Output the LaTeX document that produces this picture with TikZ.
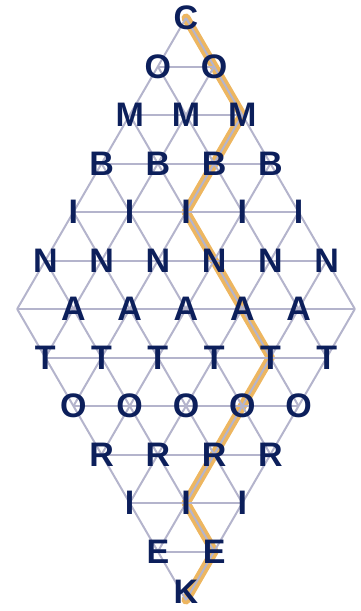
\documentclass[tikz,border=0pt]{standalone}
\usepackage{fontspec}
\setmainfont{Liberation Sans}
\definecolor{navy}{HTML}{0C1F5B}
\definecolor{gridc}{HTML}{B4B4CC}
\definecolor{pathc}{HTML}{EDB660}
\tikzset{
  gridline/.style={draw=gridc, line width=2pt},
  wordpath/.style={draw=pathc, line width=9pt, line cap=round, line join=round},
  letter/.style={inner sep=0pt, text=navy, font=\fontsize{34}{34}\selectfont\bfseries}
}
\begin{document}
\begin{tikzpicture}[x=1pt,y=1pt]
\useasboundingbox (0,0) rectangle (360,-611);
% lattice points (i = steps down-left, j = steps down-right)
\foreach \i in {0,...,6}{
  \foreach \j in {0,...,6}{
    \coordinate (p\i\j) at ({186+(\j-\i)*28.14},{-18-(\i+\j)*48.5});
  }
}
% highlighted path
\draw[wordpath] (p00) -- (p01) -- (p02) -- (p12) -- (p22) -- (p23) -- (p24)
  -- (p25) -- (p35) -- (p45) -- (p55) -- (p56) -- (p66);
% lattice lines
\foreach \k in {0,...,6}{
  \draw[gridline] (p\k0) -- (p\k6);
  \draw[gridline] (p0\k) -- (p6\k);
}
\foreach \r in {1,...,6}{\draw[gridline] (p\r0) -- (p0\r);}
\foreach \r in {1,...,5}{\draw[gridline] (p6\r) -- (p\r6);}
% letters
\foreach \r/\L in {0/C,1/O,2/M,3/B,4/I,5/N,6/A,7/T,8/O,9/R,10/I,11/E}{
  \foreach \i in {0,...,6}{
    \pgfmathtruncatemacro\j{\r-\i}
    \pgfmathtruncatemacro\ok{(\j>=0)*(\j<=6)*(1-(\r==6)*((\i==0)+(\i==6)))}
    \ifnum\ok=1
      \node[letter] (L\i\j) at (p\i\j) {\L};
    \fi
  }
}
\node[letter] (L66) at ([yshift=8pt]p66) {K};
\end{tikzpicture}
\end{document}
